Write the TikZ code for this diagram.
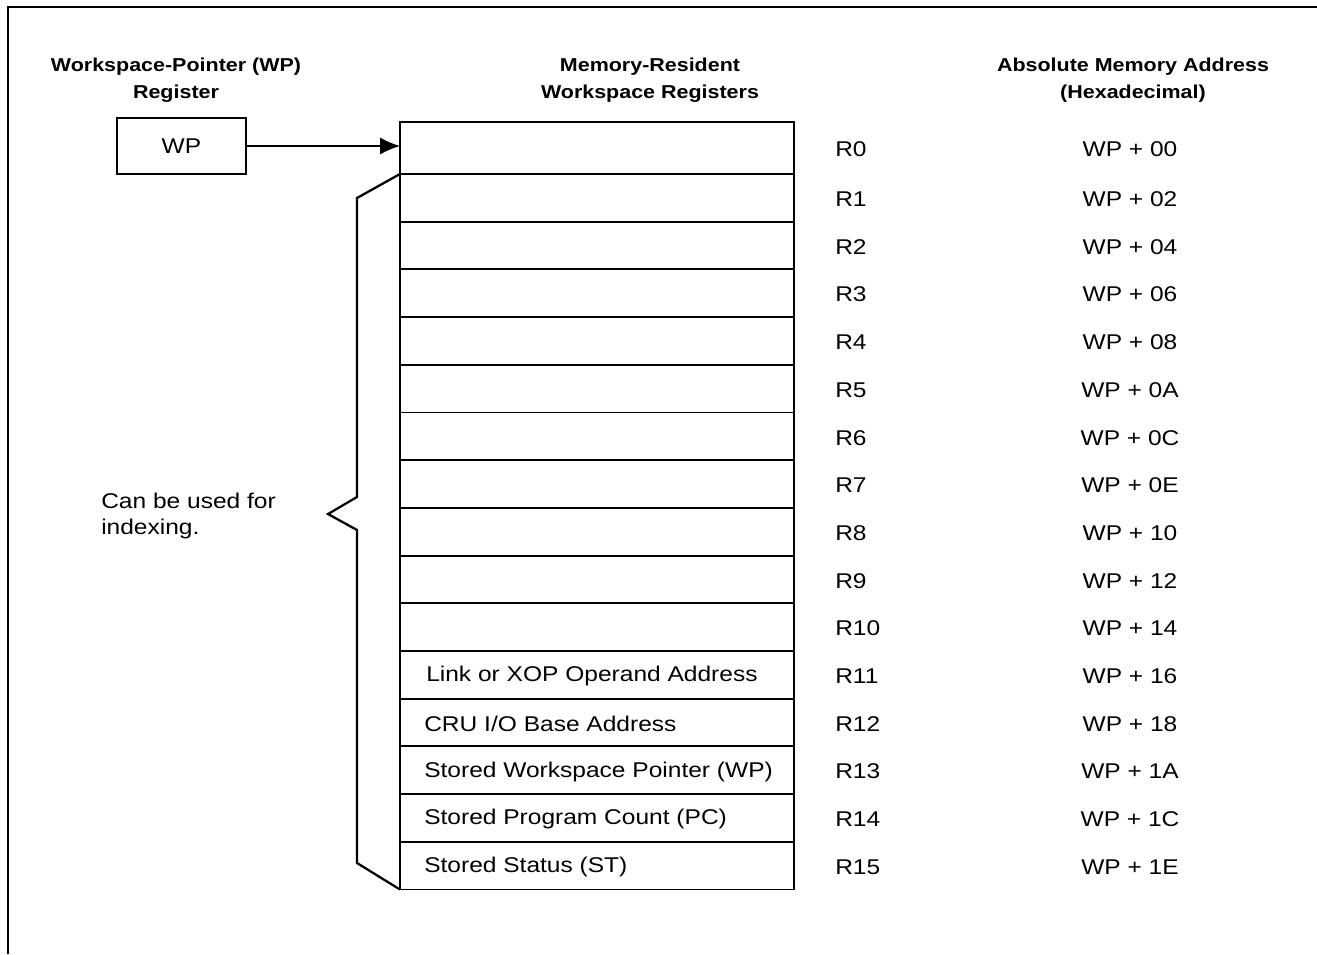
\documentclass[tikz,border=0pt]{standalone}
\usepackage{fontspec}
\setmainfont{Liberation Sans}[FakeStretch=1.15]
\usetikzlibrary{arrows.meta}
\begin{document}
\begin{tikzpicture}[x=0.75pt,y=-0.75pt,
  frame/.style={line width=1.5pt},
  cell/.style={draw,line width=1.4pt,minimum width=295.5pt,minimum height=35.8pt,inner sep=0pt,outer sep=0pt},
  head/.style={font=\fontsize{14}{20}\selectfont\bfseries,align=center},
  txt/.style={font=\fontsize{16}{20}\selectfont},
  ltxt/.style={txt,anchor=west,inner sep=0pt},
  brace/.style={line width=1.7pt},
  link/.style={line width=1.4pt,-{Latex[length=15pt,width=13pt]}}
]
\useasboundingbox (0,0) rectangle (1317,954);
\draw[frame] (8,954) -- (8,7) -- (1317,7);
\node[head] (h1) at (176,80) {Workspace-Pointer (WP)\\Register};
\node[head] (h2) at (650,80) {Memory-Resident\\Workspace Registers};
\node[head] (h3) at (1133,80) {Absolute Memory Address\\(Hexadecimal)};
\node[draw,line width=1.4pt,minimum width=96.75pt,minimum height=42pt,inner sep=0pt,txt] (wp) at (181.5,146) {WP};
\node[cell,minimum height=39pt] (c0) at (597,148) {};
\foreach \k in {1,...,15} {
  \pgfmathsetmacro{\yy}{174+(\k-0.5)*47.7}
  \node[cell] (c\k) at (597,\yy) {};
}
\foreach \k/\a in {0/00,1/02,2/04,3/06,4/08,5/0A,6/0C,7/0E,8/10,9/12,10/14,11/16,12/18,13/1A,14/1C,15/1E} {
  \node[ltxt] (l\k) at ([yshift=-1pt]c\k.center -| 835,0) {R\k};
  \node[txt] (a\k) at ([yshift=-1pt]c\k.center -| 1130,0) {WP + \a};
}
\node[ltxt] (t11) at ([xshift=19.5pt,yshift=-1pt]c11.west) {Link or XOP Operand Address};
\node[ltxt] (t12) at ([xshift=18pt,yshift=-1pt]c12.west) {CRU I/O Base Address};
\node[ltxt] (t13) at ([xshift=18pt,yshift=-1pt]c13.west) {Stored Workspace Pointer (WP)};
\node[ltxt] (t14) at ([xshift=18pt,yshift=-1pt]c14.west) {Stored Program Count (PC)};
\node[ltxt] (t15) at ([xshift=18pt,yshift=-1pt]c15.west) {Stored Status (ST)};
\draw[link] (wp.east) -- (wp.east -| c0.west);
\draw[brace] (c1.north west) -- (357,198) -- (357,497) -- (328,514) -- (357,530) -- (357,863) -- (c15.south west);
\node[txt,anchor=west,align=left,inner sep=0pt] (idx) at (101,516) {Can be used for\\indexing.};
\end{tikzpicture}
\end{document}
